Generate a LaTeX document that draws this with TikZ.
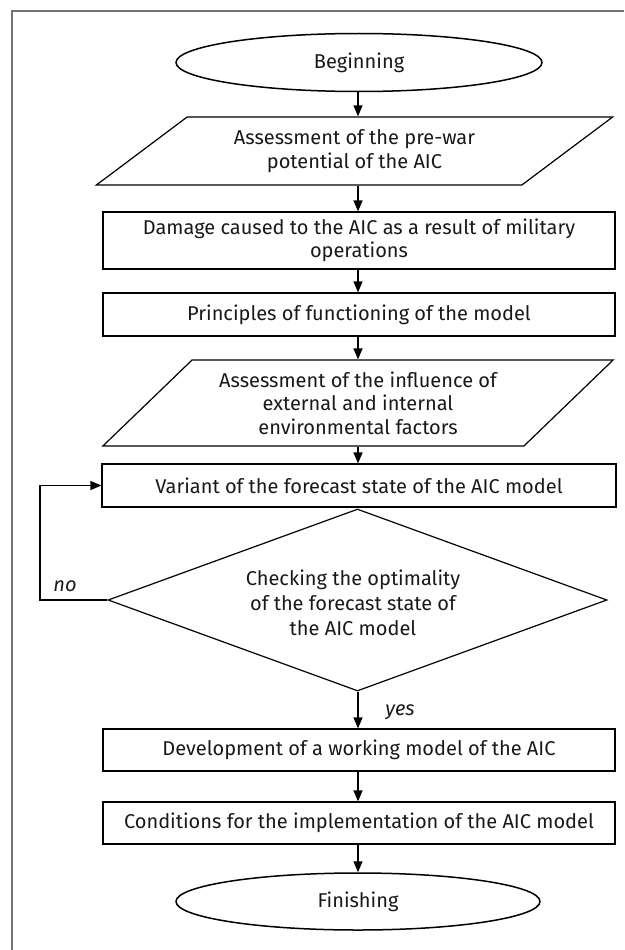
\documentclass[tikz,border=0pt]{standalone}
\usepackage{fontspec}
\setmainfont{Fira Sans}
\usetikzlibrary{arrows.meta,shapes.geometric}
\begin{document}
\begin{tikzpicture}[x=1pt,y=-1pt,
  every node/.style={font=\fontsize{20}{23.5}\selectfont, text=black!90, align=center, inner sep=0pt},
  shp/.style={draw=black, line width=1.2pt},
  stepbox/.style={shp, rectangle, minimum width=512pt, minimum height=43pt},
  oval/.style={shp, ellipse, line width=1.5pt, minimum width=366pt, minimum height=58pt},
  para/.style={shp, trapezium, trapezium stretches=true},
  decide/.style={shp, diamond, minimum width=499pt, minimum height=182pt},
  arr/.style={line width=1.3pt, -{Triangle[length=11pt,width=9pt]}},
  frame/.style={draw=black!55, line width=1.2pt},
  lbl/.style={font=\fontsize{20}{22}\selectfont\itshape}
]
\useasboundingbox (0,0) rectangle (624,950);
\draw[frame] (624,11) -- (12,11) -- (12,950);

\node[oval] (b) at (359,62.5) {Beginning};
\node[para, trapezium left angle=33.2, trapezium right angle=146.8,
      minimum width=517pt, minimum height=68pt] (p1) at (354.5,151) {Assessment of the pre-war\\potential of the AIC};
\node[stepbox, minimum height=57pt] (dm) at (359,240.5) {Damage caused to the AIC as a result of military\\operations};
\node[stepbox] (pr) at (359,314.5) {Principles of functioning of the model};
\node[para, trapezium left angle=40.1, trapezium right angle=139.9,
      minimum width=512pt, minimum height=86pt] (p2) at (358,403) {Assessment of the influence of\\external and internal\\environmental factors};
\node[stepbox, minimum width=514pt] (v) at (359,485.5) {Variant of the forecast state of the AIC model};
\node[decide] (d) at (357.5,600) {};
\node[font=\fontsize{20}{25}\selectfont] (dt) at (353,603) {Checking the optimality\\of the forecast state of\\the AIC model};
\node[stepbox, minimum height=42pt] (dev) at (359,750) {Development of a working model of the AIC};
\node[stepbox, minimum height=42pt] (c) at (359,823) {Conditions for the implementation of the AIC model};
\node[oval, minimum height=57pt, minimum width=364pt] (f) at (358,901.5) {Finishing};

\coordinate (lx) at (40,0);
\node[lbl] (no) at (65,586) {no};
\node[lbl] (yes) at (400,712) {yes};

\draw[arr] (b.south -| 358,0) -- (358,0 |- p1.north);
\draw[arr] (p1.south -| 358,0) -- (358,0 |- dm.north);
\draw[arr] (dm.south -| 358,0) -- (358,0 |- pr.north);
\draw[arr] (pr.south -| 358,0) -- (358,0 |- p2.north);
\draw[arr] (p2.south -| 358,0) -- (358,0 |- v.north);
\draw[arr] (d.south -| 358,0) -- (358,0 |- dev.north);
\draw[arr] (dev.south -| 358,0) -- (358,0 |- c.north);
\draw[arr] (c.south -| 358,0) -- (358,0 |- f.north);
\draw[arr] (d.west) -- (d.west -| lx) |- (v.west);
\end{tikzpicture}
\end{document}
